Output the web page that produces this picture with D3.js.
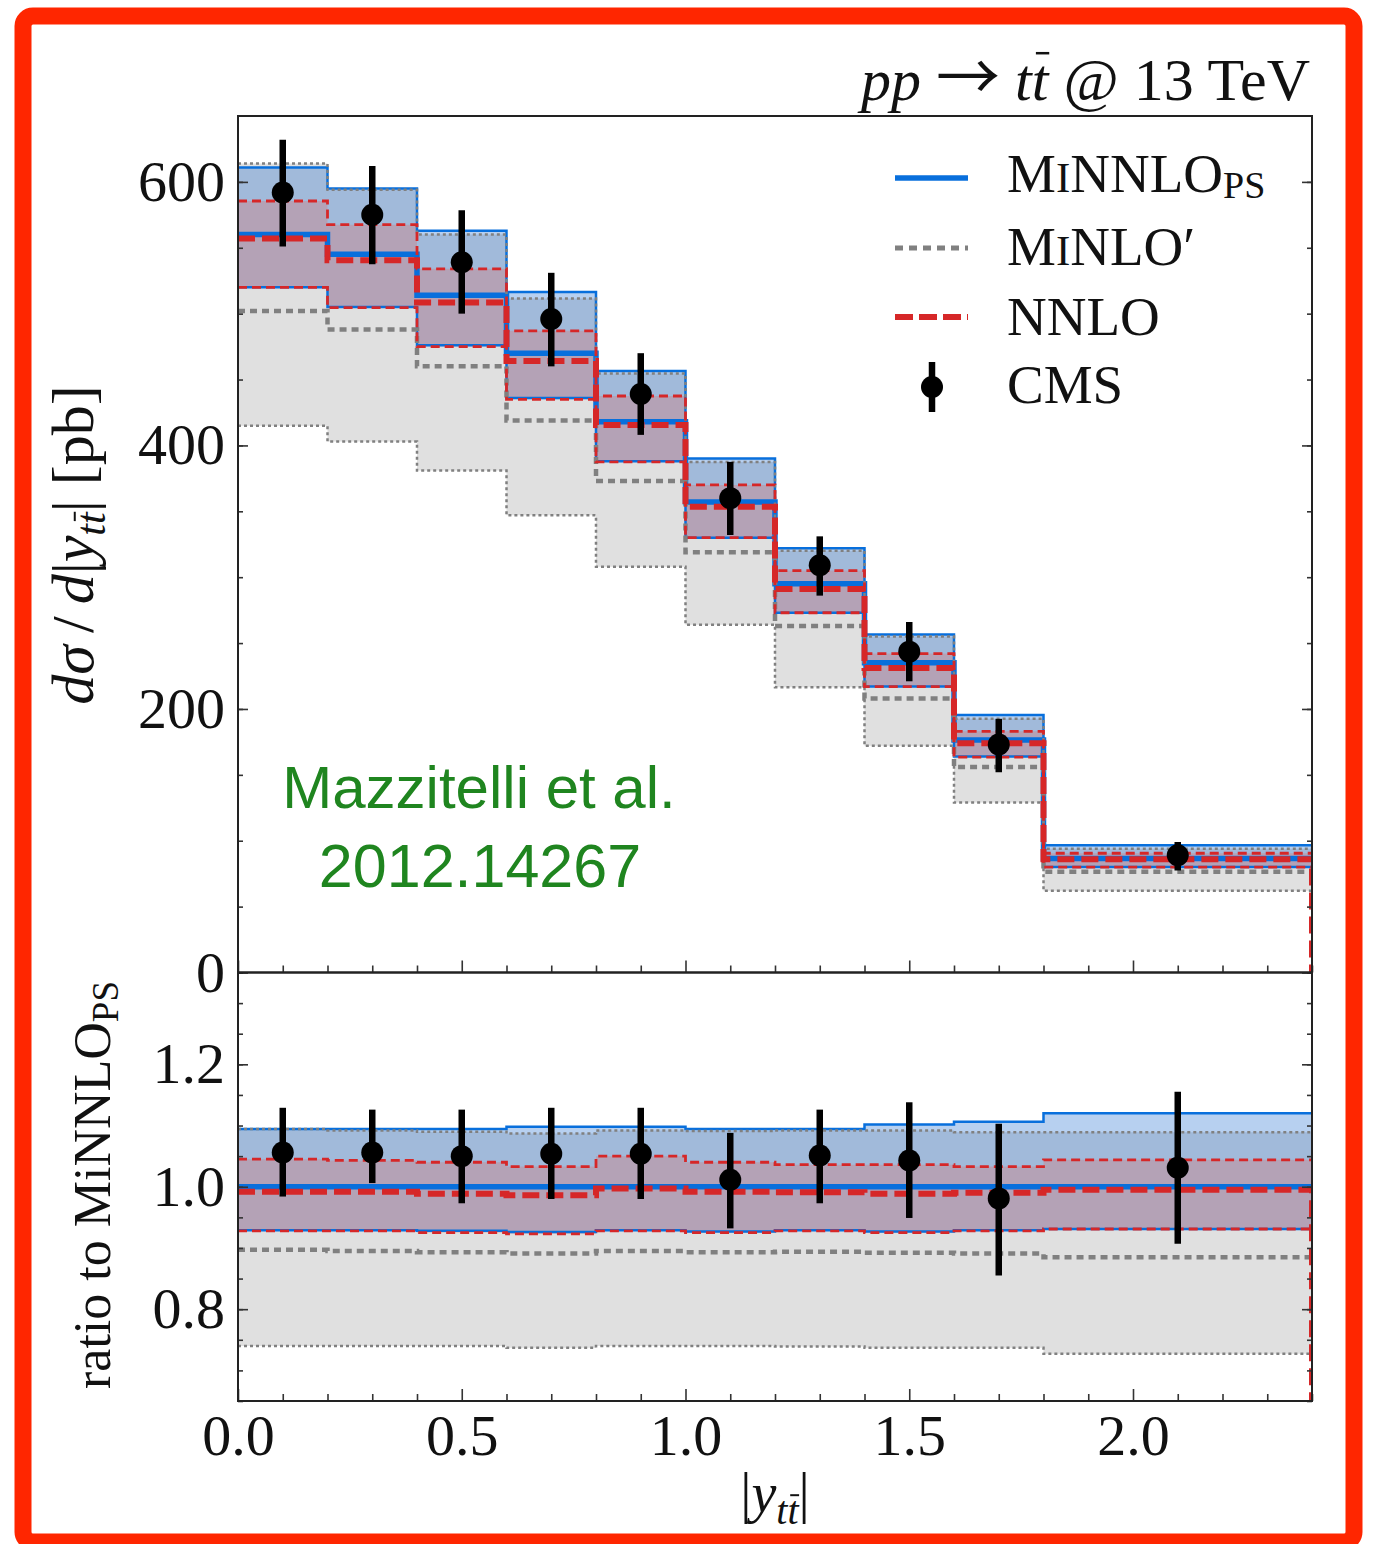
<!DOCTYPE html>
<html>
<head>
<meta charset="utf-8">
<script src="https://cdn.jsdelivr.net/npm/d3@7"></script>
<style>
  body { margin: 0; background: #fff; }
  svg text { font-family: "Liberation Serif", serif; fill: #111; }
</style>
</head>
<body>
<svg id="chart" width="1375" height="1544"></svg>
<script>
// bins in |y_tt|
const binEdges = [0, 0.2, 0.4, 0.6, 0.8, 1.0, 1.2, 1.4, 1.6, 1.8, 2.4];
const cmsX = [0.1, 0.3, 0.5, 0.7, 0.9, 1.1, 1.3, 1.5, 1.7, 2.1];

// upper panel: dsigma/d|y| [pb]
const minnloC  = [560, 545, 514, 470, 418, 357, 295, 235, 176.5, 86.5];
const minnloUp = [611, 595, 563, 516.5, 456.5, 390, 322, 256.5, 195.5, 96.5];
const minnloLo = [520, 505, 476, 436, 388, 330, 273, 217, 164, 80];
const minloC   = [502, 488, 460, 419, 373, 319, 263, 208, 156, 76.5];
const minloUp  = [614, 594, 560, 511.5, 454.5, 387.5, 320, 255, 192.5, 94];
const minloLo  = [415, 403, 381, 347, 308, 264, 216.5, 172, 129, 62];
const nnloC    = [557, 540.5, 508.5, 464, 415.5, 353.5, 291, 231, 174, 86];
const nnloUp   = [585.5, 567.5, 534, 487, 437.5, 370, 305, 242, 183, 90.5];
const nnloLo   = [520, 504.5, 475, 435, 387.5, 330, 273, 217, 163.5, 80];
const cmsVal   = [592, 575, 539, 496, 439, 360, 309, 243.5, 173, 89];
const cmsLo    = [551, 537.5, 500, 460, 408, 332, 286, 221, 152, 77.5];
const cmsHi    = [632, 612, 578.5, 531, 470, 387.5, 331, 266, 192.5, 99];

// lower panel: ratio to MiNNLO_PS
const rMinnloC  = [1, 1, 1, 1, 1, 1, 1, 1, 1, 1];
const rMinnloUp = [1.0945, 1.0945, 1.0945, 1.098, 1.098, 1.0945, 1.0945, 1.1016, 1.106, 1.12];
const rMinnloLo = [0.929, 0.929, 0.928, 0.926, 0.929, 0.927, 0.929, 0.927, 0.929, 0.931];
const rMinloC   = [0.897, 0.895, 0.893, 0.891, 0.895, 0.893, 0.894, 0.892, 0.891, 0.885];
const rMinloUp  = [1.0945, 1.092, 1.090, 1.087, 1.092, 1.091, 1.092, 1.092, 1.089, 1.089];
const rMinloLo  = [0.740, 0.740, 0.740, 0.737, 0.740, 0.740, 0.739, 0.737, 0.737, 0.727];
const rNnloC    = [0.992, 0.992, 0.9885, 0.986, 0.997, 0.992, 0.991, 0.9885, 0.990, 0.995];
const rNnloUp   = [1.045, 1.043, 1.040, 1.033, 1.050, 1.040, 1.036, 1.036, 1.033, 1.044];
const rNnloLo   = [0.928, 0.928, 0.925, 0.923, 0.928, 0.925, 0.928, 0.925, 0.928, 0.931];
const rCmsVal   = [1.056, 1.056, 1.050, 1.054, 1.054, 1.0115, 1.051, 1.043, 0.981, 1.031];
const rCmsLo    = [0.984, 1.006, 0.973, 0.980, 0.980, 0.932, 0.973, 0.949, 0.855, 0.907];
const rCmsHi    = [1.129, 1.126, 1.126, 1.129, 1.129, 1.088, 1.126, 1.138, 1.103, 1.155];

// ticks
const xMajor = [0, 0.5, 1.0, 1.5, 2.0];
const xMinor = d3.range(0, 25).map(i => i / 10);
const yMainMajor = [0, 200, 400, 600];
const yMainMinor = d3.range(0, 650, 50);
const yRatioMajor = [0.8, 1.0, 1.2];
const yRatioMinor = d3.range(13, 28).map(i => i * 0.05);

const BLUE = "#086fdc", RED = "#d62728", GREY = "#808080";

const svg = d3.select("#chart");
const x = d3.scaleLinear().domain([0, 2.4]).range([238, 1312]);
const yMain = d3.scaleLinear().domain([0, 650]).range([972.5, 116]);
const yRatio = d3.scaleLinear().domain([0.65, 1.35]).range([1401, 972.5]);

function steps(vals) {
  const pts = [];
  vals.forEach((v, i) => { pts.push([binEdges[i], v]); pts.push([binEdges[i + 1], v]); });
  return pts;
}
function stepBand(lo, hi) {
  const pts = [];
  lo.forEach((v, i) => { pts.push([binEdges[i], v, hi[i]]); pts.push([binEdges[i + 1], v, hi[i]]); });
  return pts;
}

function drawPanel(y, d, clipName) {
  const top = y.range()[1], bottom = y.range()[0];
  svg.append("clipPath").attr("id", clipName)
    .append("rect").attr("x", 238).attr("y", top).attr("width", 1074).attr("height", bottom - top);
  const g = svg.append("g").attr("clip-path", `url(#${clipName})`);
  const area = d3.area().x(p => x(p[0])).y0(p => y(p[1])).y1(p => y(p[2]));
  const line = d3.line().x(p => x(p[0])).y(p => y(p[1]));

  // bands
  g.append("path").attr("d", area(stepBand(d.minloLo, d.minloUp))).attr("fill", "#e0e0e0");
  g.append("path").attr("d", area(stepBand(d.minnloLo, d.minnloUp))).attr("fill", "rgb(18,98,205)").attr("fill-opacity", 0.3);
  g.append("path").attr("d", area(stepBand(d.nnloLo, d.nnloUp))).attr("fill", "rgb(225,106,101)").attr("fill-opacity", 0.3);

  const stroke = (vals, color, w, dash) => g.append("path").attr("d", line(vals))
    .attr("fill", "none").attr("stroke", color).attr("stroke-width", w)
    .attr("stroke-dasharray", dash || null);

  // blue
  stroke(steps(d.minnloUp), BLUE, 2.5);
  stroke(steps(d.minnloLo), BLUE, 2.5);
  stroke(steps(d.minnloC), BLUE, 5.5);
  // grey
  stroke(steps(d.minloUp), GREY, 2.5, "3,3");
  stroke(steps(d.minloLo), GREY, 2.5, "3,3");
  stroke(steps(d.minloC), GREY, 4.5, "7,5");
  // red
  stroke(steps(d.nnloUp), RED, 2.8, "9,5");
  stroke(steps(d.nnloLo), RED, 2.8, "9,5");
  stroke(steps(d.nnloC).concat([[2.4, 0]]), RED, 6, "17,7");

  // CMS data
  const pts = cmsX.map((cx, i) => ({ cx, v: d.cmsVal[i], lo: d.cmsLo[i], hi: d.cmsHi[i] }));
  g.selectAll(null).data(pts).enter().append("line")
    .attr("x1", p => x(p.cx)).attr("x2", p => x(p.cx))
    .attr("y1", p => y(p.lo)).attr("y2", p => y(p.hi))
    .attr("stroke", "#000").attr("stroke-width", 6.5);
  g.selectAll(null).data(pts).enter().append("circle")
    .attr("cx", p => x(p.cx)).attr("cy", p => y(p.v)).attr("r", 11).attr("fill", "#000");
}

drawPanel(yMain, { minnloC, minnloUp, minnloLo, minloC, minloUp, minloLo, nnloC, nnloUp, nnloLo, cmsVal, cmsLo, cmsHi }, "clipMain");
drawPanel(yRatio, { minnloC: rMinnloC, minnloUp: rMinnloUp, minnloLo: rMinnloLo, minloC: rMinloC, minloUp: rMinloUp,
  minloLo: rMinloLo, nnloC: rNnloC, nnloUp: rNnloUp, nnloLo: rNnloLo, cmsVal: rCmsVal, cmsLo: rCmsLo, cmsHi: rCmsHi }, "clipRatio");

// axes, ticks inward
function styleAxis(g) {
  g.select(".domain").remove();
  g.selectAll(".tick line").attr("stroke", "#333").attr("stroke-width", 1.6);
  g.selectAll("text").style("font-family", "Liberation Serif, serif").style("font-size", "58px").attr("fill", "#111");
  g.attr("font-size", null).attr("font-family", null);
}
function yAxes(y, majors, minors, fmt) {
  svg.append("g").attr("transform", "translate(238,0)")
    .call(d3.axisLeft(y).tickValues(majors).tickSize(-10).tickPadding(13).tickFormat(fmt)).call(styleAxis);
  svg.append("g").attr("transform", "translate(238,0)")
    .call(d3.axisLeft(y).tickValues(minors).tickSize(-5).tickFormat("")).call(styleAxis);
  svg.append("g").attr("transform", "translate(1312,0)")
    .call(d3.axisRight(y).tickValues(majors).tickSize(-10).tickFormat("")).call(styleAxis);
  svg.append("g").attr("transform", "translate(1312,0)")
    .call(d3.axisRight(y).tickValues(minors).tickSize(-5).tickFormat("")).call(styleAxis);
}
function xAxes(yPos, labels) {
  svg.append("g").attr("transform", `translate(0,${yPos})`)
    .call(d3.axisBottom(x).tickValues(xMajor).tickSize(-12).tickPadding(13).tickFormat(labels ? d3.format(".1f") : ""))
    .call(styleAxis);
  svg.append("g").attr("transform", `translate(0,${yPos})`)
    .call(d3.axisBottom(x).tickValues(xMinor.filter(v => !xMajor.includes(v))).tickSize(-7).tickFormat(""))
    .call(styleAxis);
}
yAxes(yMain, yMainMajor, yMainMinor, d3.format("d"));
yAxes(yRatio, yRatioMajor, yRatioMinor, d3.format(".1f"));
xAxes(972.5, false);
xAxes(1401, true);

// frames
svg.append("rect").attr("x", 238).attr("y", 116).attr("width", 1074).attr("height", 856.5)
  .attr("fill", "none").attr("stroke", "#222").attr("stroke-width", 2);
svg.append("rect").attr("x", 238).attr("y", 972.5).attr("width", 1074).attr("height", 428.5)
  .attr("fill", "none").attr("stroke", "#222").attr("stroke-width", 2);

// overbar over a character of a text element
function overbar(parent, textNode, idx, yBar, w) {
  const b = textNode.getExtentOfChar(idx);
  parent.append("line")
    .attr("x1", b.x + b.width * 0.25).attr("x2", b.x + b.width * 1.05)
    .attr("y1", yBar).attr("y2", yBar).attr("stroke", "#111").attr("stroke-width", w);
}

// title
const title = svg.append("text").attr("x", 1310).attr("y", 100).attr("text-anchor", "end").style("font-size", "60px");
title.append("tspan").attr("font-style", "italic").text("pp ");
title.append("tspan").style("font-family", "Noto Sans CJK JP, DejaVu Sans, sans-serif").style("font-size", "64px").text("\u2192");
title.append("tspan").attr("font-style", "italic").text(" tt");
title.append("tspan").text(" @ 13 TeV");
overbar(svg, title.node(), 6, 100 - 0.78 * 60, 2.5);

// y label, upper
const gyl = svg.append("g").attr("transform", "translate(93,545) rotate(-90)");
const yl = gyl.append("text").attr("text-anchor", "middle").style("font-size", "60px");
yl.append("tspan").attr("font-style", "italic").text("d\u03c3");
yl.append("tspan").text("\u2009/\u2009");
yl.append("tspan").attr("font-style", "italic").text("d");
yl.append("tspan").text("|");
yl.append("tspan").attr("font-style", "italic").text("y");
yl.append("tspan").attr("font-style", "italic").attr("dy", 12).style("font-size", "42px").text("tt");
yl.append("tspan").attr("dy", -12).text("|");
yl.append("tspan").text(" [pb]");
overbar(gyl, yl.node(), 9, 12 - 0.72 * 42, 2);

// y label, ratio
const gyr = svg.append("g").attr("transform", "translate(110,1185) rotate(-90)");
const yr = gyr.append("text").attr("text-anchor", "middle").style("font-size", "52px");
yr.append("tspan").text("ratio to MiNNLO");
yr.append("tspan").attr("dy", 8).style("font-size", "37px").text("PS");

// x label
const xl = svg.append("text").attr("x", 775).attr("y", 1512).attr("text-anchor", "middle").style("font-size", "56px");
xl.append("tspan").text("|");
xl.append("tspan").attr("font-style", "italic").text("y");
xl.append("tspan").attr("font-style", "italic").attr("dy", 12).style("font-size", "40px").text("tt");
xl.append("tspan").attr("dy", -12).text("|");
overbar(svg, xl.node(), 3, 1512 + 12 - 0.72 * 40, 2);

// legend
const legX0 = 895, legX1 = 968, legText = 1007;
const lg = svg.append("g");
lg.append("line").attr("x1", legX0).attr("x2", legX1).attr("y1", 178).attr("y2", 178).attr("stroke", BLUE).attr("stroke-width", 5.5);
lg.append("line").attr("x1", legX0).attr("x2", legX1).attr("y1", 248).attr("y2", 248).attr("stroke", GREY).attr("stroke-width", 5).attr("stroke-dasharray", "8,6");
lg.append("line").attr("x1", legX0).attr("x2", legX1).attr("y1", 317).attr("y2", 317).attr("stroke", RED).attr("stroke-width", 6).attr("stroke-dasharray", "18,6");
lg.append("line").attr("x1", 932).attr("x2", 932).attr("y1", 362).attr("y2", 412).attr("stroke", "#000").attr("stroke-width", 6.5);
lg.append("circle").attr("cx", 932).attr("cy", 387).attr("r", 11).attr("fill", "#000");

const t1 = lg.append("text").attr("x", legText).attr("y", 192).style("font-size", "55px");
t1.append("tspan").text("M");
t1.append("tspan").style("font-size", "43px").text("I");
t1.append("tspan").text("NNLO");
t1.append("tspan").attr("dy", 6).style("font-size", "38px").text("PS");
const t2 = lg.append("text").attr("x", legText).attr("y", 265).style("font-size", "55px");
t2.append("tspan").text("M");
t2.append("tspan").style("font-size", "43px").text("I");
t2.append("tspan").text("NLO\u2032");
lg.append("text").attr("x", legText).attr("y", 335).style("font-size", "55px").text("NNLO");
lg.append("text").attr("x", legText).attr("y", 403).style("font-size", "55px").text("CMS");

// annotation
svg.append("text").attr("x", 479).attr("y", 808).attr("text-anchor", "middle")
  .style("font-family", "Liberation Sans, Arial, sans-serif").style("font-size", "60px").style("fill", "#1f851f")
  .text("Mazzitelli et al.");
svg.append("text").attr("x", 480).attr("y", 887).attr("text-anchor", "middle")
  .style("font-family", "Liberation Sans, Arial, sans-serif").style("font-size", "61px").style("fill", "#1f851f")
  .text("2012.14267");

// red frame
svg.append("rect").attr("x", 23).attr("y", 16).attr("width", 1331).attr("height", 1526).attr("rx", 10)
  .attr("fill", "none").attr("stroke", "#ff2600").attr("stroke-width", 17);
</script>
</body>
</html>
